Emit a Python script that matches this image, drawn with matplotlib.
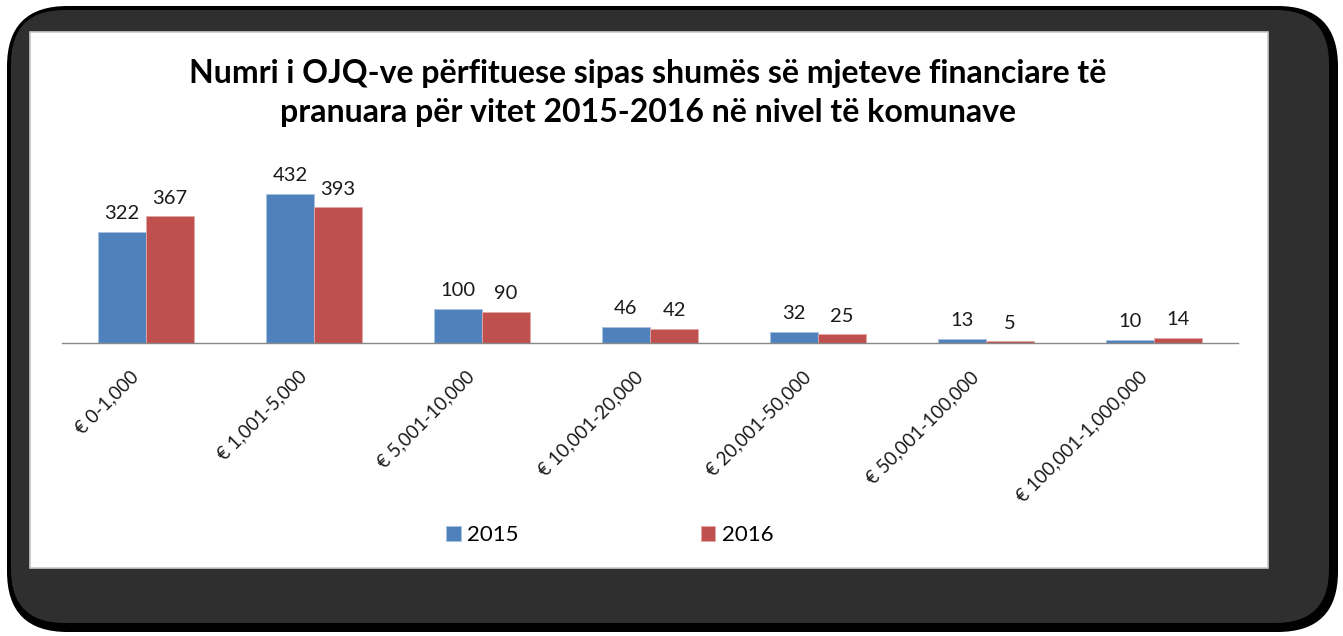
import matplotlib
matplotlib.use("Agg")
import matplotlib.pyplot as plt
import numpy as np
from matplotlib.patches import FancyBboxPatch, Rectangle
from matplotlib.transforms import ScaledTranslation

categories = ["€ 0-1,000", "€ 1,001-5,000", "€ 5,001-10,000", "€ 10,001-20,000",
              "€ 20,001-50,000", "€ 50,001-100,000", "€ 100,001-1,000,000"]
values_2015 = [322, 432, 100, 46, 32, 13, 10]
values_2016 = [367, 393, 90, 42, 25, 5, 14]
series_names = ["2015", "2016"]
title = "Numri i OJQ-ve përfituese sipas shumës së mjeteve financiare të\npranuara për vitet 2015-2016 në nivel të komunave"

W, H = 1343, 636
fig = plt.figure(figsize=(W / 100, H / 100), dpi=100)
fig.patch.set_facecolor("white")

def px(x, y, w, h):
    return (x / W, 1 - (y + h) / H, w / W, h / H)

# frame: black outline, dark grey fill, white plot card
x0, y0, w0, h0 = px(7, 6, 1331, 626)
fig.patches.append(FancyBboxPatch((x0, y0), w0, h0, boxstyle="round,pad=0,rounding_size=0.045",
                                  transform=fig.transFigure, facecolor="#000000", edgecolor="none",
                                  mutation_aspect=W / H, zorder=-10))
x1, y1, w1, h1 = px(11, 10, 1318, 613)
fig.patches.append(FancyBboxPatch((x1, y1), w1, h1, boxstyle="round,pad=0,rounding_size=0.04",
                                  transform=fig.transFigure, facecolor="#2f2f2f", edgecolor="none",
                                  mutation_aspect=W / H, zorder=-9))
x2, y2, w2, h2 = px(30, 32, 1238, 536)
fig.patches.append(Rectangle((x2, y2), w2, h2, transform=fig.transFigure,
                             facecolor="white", edgecolor="#c8c8c8", linewidth=1.2, zorder=-8))

font = ["Lato", "DejaVu Sans"]

# axes
ax = fig.add_axes(px(62, 343 - 172.5, 1176, 172.5))
ax.set_zorder(5)
ax.set_facecolor("none")
x = np.arange(len(categories))
bw = 0.286
c15, c16 = "#4f81bd", "#c0504d"
b1 = ax.bar(x - bw / 2, values_2015, bw, color=c15, edgecolor="#a9c0de", linewidth=0.6, label=series_names[0])
b2 = ax.bar(x + bw / 2, values_2016, bw, color=c16, edgecolor="#e0a9a8", linewidth=0.6, label=series_names[1])
for bars, vals in ((b1, values_2015), (b2, values_2016)):
    for r, v in zip(bars, vals):
        ax.annotate(str(v), (r.get_x() + r.get_width() / 2, v), xytext=(0, 7),
                    textcoords="offset points", ha="center", va="bottom",
                    fontsize=14.5, family=font, color="#1a1a1a")
ax.set_xlim(-0.5, len(categories) - 0.5)
ax.set_ylim(0, 500)
for s in ["top", "right", "left"]:
    ax.spines[s].set_visible(False)
ax.spines["bottom"].set_color("#888888")
ax.spines["bottom"].set_linewidth(1.0)
ax.set_yticks([])
ax.set_xticks(x)
ax.set_xticklabels(categories, rotation=45, ha="right", va="center", rotation_mode="anchor",
                   fontsize=13.5, family=font, color="#1a1a1a")
ax.tick_params(axis="x", length=0, pad=18)
shift = ScaledTranslation(-10 / 100, -6 / 100, fig.dpi_scale_trans)
for lbl in ax.get_xticklabels():
    lbl.set_transform(lbl.get_transform() + shift)

fig.text(648 / W, 1 - 93 / H, title, ha="center", va="center", fontsize=23,
         fontweight="bold", family=font, linespacing=1.38, color="#000000")

leg = fig.legend(handles=[b1, b2], labels=series_names, loc="center", ncol=2,
                 bbox_to_anchor=(610 / W, 1 - 535 / H), frameon=False,
                 prop={"family": font, "size": 16}, handlelength=0.65, handleheight=0.65,
                 handletextpad=0.3, columnspacing=8.2)

fig.savefig("out.png", dpi=100, facecolor="white")
